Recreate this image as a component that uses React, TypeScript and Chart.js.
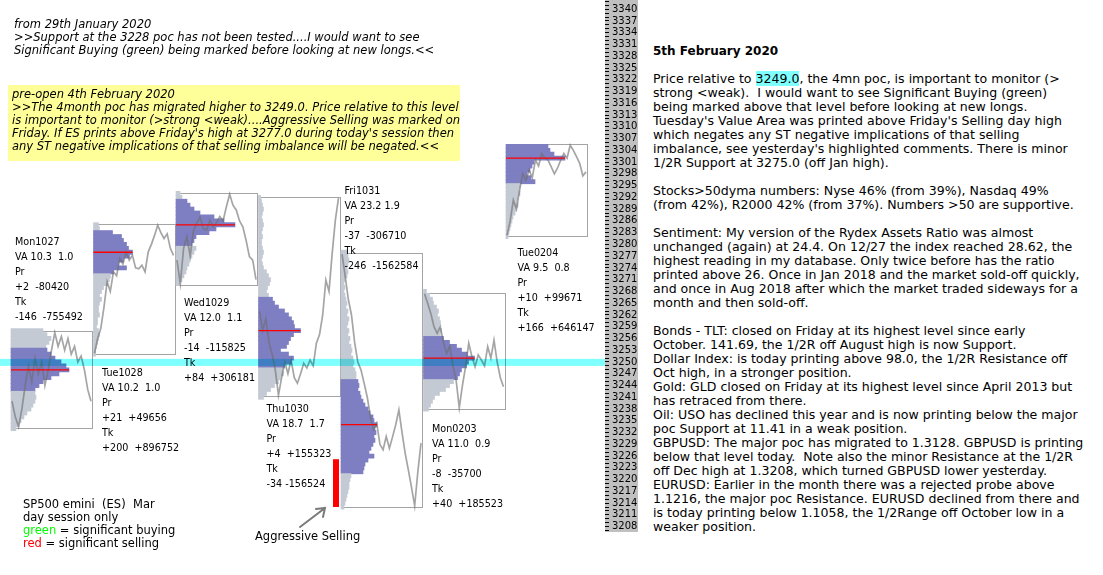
import React, { useEffect, useRef } from 'react';
import { Chart, registerables } from 'chart.js';

Chart.register(...registerables);

// ---------------- data ----------------
const days = ['Mon1027', 'Tue1028', 'Wed1029', 'Thu1030', 'Fri1031', 'Mon0203', 'Tue0204'];
const dayVA = ['VA 10.3  1.0', 'VA 10.2  1.0', 'VA 12.0  1.1', 'VA 18.7  1.7', 'VA 23.2 1.9', 'VA 11.0  0.9', 'VA 9.5  0.8'];
const dayPr = ['+2  -80420', '+21  +49656', '-14  -115825', '+4  +155323', '-37  -306710', '-8  -35700', '+10  +99671'];
const dayTk = ['-146  -755492', '+200  +896752', '+84  +306181', '-34 -156524', '-246  -1562584', '+40  +185523', '+166  +646147'];

const dayHigh = [3257.8, 3285.2, 3293.1, 3292.1, 3277.8, 3267.6, 3305.6];
const dayLow = [3233.2, 3252.0, 3269.6, 3241.3, 3213.0, 3238.0, 3282.1];

// profile: top price level, then relative volume per 1-point level going down
const profileTop = [3258, 3285, 3293, 3292, 3278, 3268, 3305];
const vaHigh = [3253, 3283, 3291, 3266, 3245, 3256, 3305];
const vaLow = [3243, 3273, 3280, 3249, 3222, 3246, 3296];
const pocLevel = [3248, 3278, 3285, 3258, 3234, 3251, 3302];

const mon1027Vol = [32, 36, 40, 38, 35, 36, 40, 44, 50, 55, 58, 48, 40, 32, 28, 24, 24, 25, 24, 22, 20, 16, 13, 10, 8, 5];
const tue1028Vol = [5, 6, 19, 28, 30, 33, 35, 39, 36, 30, 25, 33, 20, 17, 16, 14, 10, 8, 6, 8, 6, 5, 5, 6, 4, 4, 3, 5, 6, 5, 4, 3, 2, 2];
const wed1029Vol = [4, 6, 11, 14, 18, 24, 38, 48, 59, 40, 33, 20, 18, 16, 20, 18, 16, 14, 13, 11, 10, 8, 6, 4];
const thu1030Vol = [2, 3, 4, 5, 4, 3, 4, 5, 4, 3, 4, 3, 3, 4, 5, 4, 3, 4, 5, 8, 10, 12, 11, 9, 8, 10, 14, 16, 20, 26, 30, 33, 35, 36, 42, 35, 32, 30, 28, 22, 30, 35, 33, 26, 24, 25, 22, 20, 16, 12, 8, 5];
const fri1031Vol = [6, 7, 8, 7, 6, 7, 6, 4, 3, 4, 3, 4, 5, 6, 5, 7, 6, 8, 7, 6, 8, 7, 9, 8, 10, 11, 10, 12, 13, 12, 14, 15, 15, 17, 18, 17, 19, 20, 22, 24, 27, 29, 32, 33, 36, 34, 35, 33, 34, 32, 30, 28, 33, 27, 24, 23, 22, 10, 9, 8, 8, 7, 6, 5, 4, 3];
const mon0203Vol = [3, 6, 9, 10, 13, 15, 14, 16, 17, 16, 18, 17, 20, 26, 33, 38, 44, 51, 45, 43, 38, 36, 34, 30, 26, 22, 16, 11, 9, 7, 5];
const tue0204Vol = [42, 44, 48, 59, 28, 26, 24, 21, 25, 29, 14, 13, 14, 12, 11, 12, 10, 9, 7, 6, 5, 4, 3, 2];
const profileVol = [mon1027Vol, tue1028Vol, wed1029Vol, thu1030Vol, fri1031Vol, mon0203Vol, tue0204Vol];

// intraday price paths (equal time steps)
const mon1027Path = [3240, 3236, 3233.5, 3238, 3244, 3249, 3245, 3251, 3247, 3250, 3244, 3248, 3253, 3257.5, 3254, 3256.5, 3253, 3256, 3252, 3254, 3250, 3251.5, 3248, 3243, 3240];
const tue1028Path = [3252.2, 3256, 3258.6, 3264, 3270.5, 3268, 3273, 3272, 3276.4, 3275, 3278.1, 3276, 3277.2, 3274, 3273.8, 3274.7, 3273, 3278.1, 3280, 3282.3, 3284.9, 3283, 3281.5, 3282.7, 3279, 3277.2];
const wed1029Path = [3276, 3270, 3279, 3282, 3277, 3283.5, 3285.4, 3287, 3284, 3283.7, 3286.2, 3284.5, 3285.5, 3287.1, 3286, 3289.6, 3292.8, 3290, 3288.8, 3286, 3284.5, 3281, 3276.9, 3276, 3271];
const thu1030Path = [3263, 3258, 3261, 3255, 3252, 3248, 3241.5, 3246, 3250, 3247, 3250.5, 3246, 3244.6, 3247, 3249.7, 3248.5, 3250.5, 3249, 3254.8, 3257, 3262, 3270.9, 3268, 3277.7, 3286.2, 3291.8];
const fri1031Path = [3277.5, 3272, 3266, 3262, 3255, 3250, 3248, 3244.6, 3241, 3236, 3232.7, 3234.4, 3229, 3227.6, 3231, 3228, 3230.9, 3234, 3237.8, 3232, 3226.7, 3222.4, 3218, 3213.3, 3222, 3229.3];
const mon0203Path = [3267.4, 3265, 3262.4, 3259, 3257.3, 3259, 3255, 3252.2, 3254, 3249, 3245.4, 3238.3, 3244, 3248.8, 3254.8, 3251.4, 3248.8, 3251.8, 3250.5, 3249, 3253.9, 3251, 3255.6, 3250, 3246, 3243.7];
const tue0204Path = [3282.3, 3286, 3291.3, 3289, 3293.9, 3298.1, 3296.4, 3299, 3297, 3301.5, 3300, 3303.2, 3302, 3301.5, 3299.8, 3298, 3299.5, 3301.5, 3303.2, 3302, 3305.3, 3304, 3302.4, 3300.7, 3297.5, 3298.5];
const pricePaths = [mon1027Path, tue1028Path, wed1029Path, thu1030Path, fri1031Path, mon0203Path, tue0204Path];

const pocBand = [3249.0, 3250.8];
const aggressiveSelling = [3213.0, 3225.2];

const tickLabelAnchor = 3208;
const tickLabelEvery = 3;

// ---------------- texts ----------------
const noteJan = [
  'from 29th January 2020',
  '>>Support at the 3228 poc has not been tested....I would want to see',
  'Significant Buying (green) being marked before looking at new longs.<<',
];
const noteFeb = [
  'pre-open 4th February 2020',
  '>>The 4month poc has migrated higher to 3249.0. Price relative to this level',
  'is important to monitor (>strong <weak)....Aggressive Selling was marked on',
  "Friday. If ES prints above Friday's high at 3277.0 during today's session then",
  'any ST negative implications of that selling imbalance will be negated.<<',
];
const commentaryTitle = '5th February 2020';
const commentaryHighlight = '3249.0';
const commentary = [
  'Price relative to 3249.0, the 4mn poc, is important to monitor (>',
  'strong <weak).  I would want to see Significant Buying (green)',
  'being marked above that level before looking at new longs.',
  "Tuesday's Value Area was printed above Friday's Selling day high",
  'which negates any ST negative implications of that selling',
  "imbalance, see yesterday's highlighted comments. There is minor",
  '1/2R Support at 3275.0 (off Jan high).',
  '',
  'Stocks>50dyma numbers: Nyse 46% (from 39%), Nasdaq 49%',
  '(from 42%), R2000 42% (from 37%). Numbers >50 are supportive.',
  '',
  'Sentiment: My version of the Rydex Assets Ratio was almost',
  'unchanged (again) at 24.4. On 12/27 the index reached 28.62, the',
  'highest reading in my database. Only twice before has the ratio',
  'printed above 26. Once in Jan 2018 and the market sold-off quickly,',
  'and once in Aug 2018 after which the market traded sideways for a',
  'month and then sold-off.',
  '',
  'Bonds - TLT: closed on Friday at its highest level since early',
  'October. 141.69, the 1/2R off August high is now Support.',
  'Dollar Index: is today printing above 98.0, the 1/2R Resistance off',
  'Oct high, in a stronger position.',
  'Gold: GLD closed on Friday at its highest level since April 2013 but',
  'has retraced from there.',
  'Oil: USO has declined this year and is now printing below the major',
  'poc Support at 11.41 in a weak position.',
  'GBPUSD: The major poc has migrated to 1.3128. GBPUSD is printing',
  'below that level today.  Note also the minor Resistance at the 1/2R',
  'off Dec high at 1.3208, which turned GBPUSD lower yesterday.',
  'EURUSD: Earlier in the month there was a rejected probe above',
  '1.1216, the major poc Resistance. EURUSD declined from there and',
  'is today printing below 1.1058, the 1/2Range off October low in a',
  'weaker position.',
];

// ---------------- layout / style ----------------
const FONT = '"DejaVu Sans", Verdana, sans-serif';
const CANVAS_W = 640;
const CANVAS_H = 532;
const AXIS_W = 35;
const AXIS_MIN = 3206.63;
const AXIS_MAX = 3342.35;
const SLOT_X0 = 11;
const SLOT_STEP = 82.5;
const SLOT_W = 81;
const slotLeft = (i: number) => SLOT_X0 + SLOT_STEP * i;
const labelPos: [number, number][] = [
  [15, 233.5], [102, 365], [184, 294.5], [266.5, 400.5], [344.5, 182.5], [432, 421], [517.5, 244.5],
];
const BLUE = 'rgb(126,126,194)';
const GREY = 'rgb(196,202,212)';

const framePlugin = {
  id: 'frames',
  beforeDraw(chart: any) {
    const { ctx, chartArea } = chart;
    ctx.save();
    ctx.fillStyle = '#c0c0c0';
    ctx.fillRect(chartArea.right, 0, 33, chartArea.bottom);
    ctx.restore();
  },
  beforeDatasetsDraw(chart: any) {
    const { ctx } = chart;
    const y = chart.scales.y;
    const x = chart.scales.x;
    ctx.save();
    ctx.strokeStyle = '#a4a4a4';
    ctx.lineWidth = 1;
    days.forEach((_, i) => {
      const l = Math.round(x.getPixelForValue(slotLeft(i))) + 0.5;
      const r = Math.round(x.getPixelForValue(slotLeft(i) + SLOT_W)) + 0.5;
      const t = Math.round(y.getPixelForValue(dayHigh[i])) + 0.5;
      const b = Math.round(y.getPixelForValue(dayLow[i])) + 0.5;
      ctx.strokeRect(l, t, r - l, b - t);
    });
    ctx.restore();
  },
  afterDatasetsDraw(chart: any) {
    const { ctx, chartArea } = chart;
    const y = chart.scales.y;
    ctx.save();
    ctx.globalCompositeOperation = 'multiply';
    ctx.fillStyle = '#80ffff';
    const t = y.getPixelForValue(pocBand[1]);
    const b = y.getPixelForValue(pocBand[0]);
    ctx.fillRect(chartArea.left, t, chartArea.right - chartArea.left, b - t);
    ctx.restore();
    // arrow pointing at the aggressive selling marker
    ctx.save();
    ctx.strokeStyle = '#7a7a7a';
    ctx.lineWidth = 2;
    ctx.lineCap = 'round';
    ctx.beginPath();
    ctx.moveTo(300, 527);
    ctx.lineTo(325, 508);
    ctx.moveTo(316, 509);
    ctx.lineTo(325, 508);
    ctx.lineTo(323, 517);
    ctx.stroke();
    ctx.restore();
  },
};

function buildDatasets() {
  const ds: any[] = [];
  days.forEach((_, i) => {
    const left = slotLeft(i);
    const vols = profileVol[i];
    const top = profileTop[i];
    ds.push({
      type: 'bar',
      indexAxis: 'y',
      order: 5,
      grouped: false,
      barThickness: 4.2,
      borderWidth: 0,
      data: vols.map((v, j) => ({ y: top - j, x: [left, left + v] })),
      backgroundColor: (c: any) => {
        const p = c.raw ? c.raw.y : 0;
        return p >= vaLow[i] && p <= vaHigh[i] ? BLUE : GREY;
      },
    });
    const path = pricePaths[i];
    const n = path.length;
    ds.push({
      type: 'line',
      indexAxis: 'x',
      order: 3,
      data: path.map((p, k) => ({ x: left + 1 + (k * (SLOT_W - 2)) / (n - 1), y: p })),
      borderColor: 'rgba(110,110,110,0.62)',
      borderWidth: 1.7,
      pointRadius: 0,
      tension: 0,
      fill: false,
    });
    const pv = vols[top - pocLevel[i]];
    ds.push({
      type: 'line',
      indexAxis: 'x',
      order: 2,
      data: [
        { x: left, y: pocLevel[i] },
        { x: left + pv, y: pocLevel[i] },
      ],
      borderColor: '#ff0000',
      borderWidth: 1.3,
      pointRadius: 0,
      fill: false,
    });
  });
  const aggX = slotLeft(4) - 5;
  ds.push({
    type: 'line',
    indexAxis: 'x',
    order: 1,
    data: [
      { x: aggX, y: aggressiveSelling[0] },
      { x: aggX, y: aggressiveSelling[1] },
    ],
    borderColor: '#ff0000',
    borderWidth: 6,
    borderCapStyle: 'butt',
    pointRadius: 0,
    fill: false,
  });
  return ds;
}

function TextBlock(props: { x: number; y: number; lh: number; size: number; lines: React.ReactNode[]; italic?: boolean; bold?: boolean; color?: string }) {
  const { x, y, lh, size, lines, italic, bold, color } = props;
  return (
    <div
      style={{
        position: 'absolute',
        left: x,
        top: y,
        fontSize: size,
        lineHeight: lh + 'px',
        whiteSpace: 'pre',
        fontStyle: italic ? 'italic' : 'normal',
        fontWeight: bold ? 'bold' : 'normal',
        color: color || '#000',
      }}
    >
      {lines.map((l, i) => (
        <div key={i} style={{ height: lh }}>
          {l === '' ? '\u00a0' : l}
        </div>
      ))}
    </div>
  );
}

export default function App() {
  const ref = useRef<HTMLCanvasElement>(null);
  useEffect(() => {
    if (!ref.current) return;
    const chart = new Chart(ref.current, {
      type: 'line',
      data: { datasets: buildDatasets() },
      plugins: [framePlugin],
      options: {
        animation: false,
        responsive: false,
        devicePixelRatio: 1,
        events: [],
        layout: { padding: 0 },
        plugins: { legend: { display: false }, tooltip: { enabled: false } },
        scales: {
          x: {
            type: 'linear',
            min: 0,
            max: CANVAS_W - AXIS_W,
            display: false,
            offset: false,
            grid: { offset: false },
          },
          y: {
            type: 'linear',
            position: 'right',
            min: AXIS_MIN,
            max: AXIS_MAX,
            offset: false,
            border: { display: false },
            grid: { drawOnChartArea: false, drawTicks: true, tickLength: 4, color: '#000', offset: false, lineWidth: 1 },
            ticks: {
              stepSize: 1,
              autoSkip: false,
              includeBounds: false,
              maxTicksLimit: 400,
              padding: 3,
              color: '#000',
              font: { family: 'DejaVu Sans', size: 10 },
              callback: (v: any) => {
                const n = Math.round(Number(v));
                return (n - tickLabelAnchor) % tickLabelEvery === 0 ? String(n) : '';
              },
            },
            afterFit: (s: any) => {
              s.width = AXIS_W;
              s.paddingTop = 0;
              s.paddingBottom = 0;
            },
          },
        },
      } as any,
    } as any);
    return () => chart.destroy();
  }, []);

  const firstLine = commentary[0];
  const hi = firstLine.indexOf(commentaryHighlight);
  const commentaryNodes: React.ReactNode[] = commentary.map((l, i) =>
    i === 0 ? (
      <span key="h">
        {firstLine.slice(0, hi)}
        <span style={{ background: '#80ffff' }}>{commentaryHighlight}</span>
        {firstLine.slice(hi + commentaryHighlight.length)}
      </span>
    ) : (
      l
    )
  );

  return (
    <div
      style={{
        position: 'absolute',
        left: 0,
        top: 0,
        width: 1103,
        height: 575,
        background: '#fff',
        overflow: 'hidden',
        fontFamily: FONT,
        color: '#000',
      }}
    >
      <canvas ref={ref} width={CANVAS_W} height={CANVAS_H} style={{ position: 'absolute', left: 0, top: 0, width: CANVAS_W, height: CANVAS_H }} />

      <TextBlock x={14} y={17.5} lh={13} size={11.5} italic lines={noteJan} />
      <div style={{ position: 'absolute', left: 8, top: 85, width: 452, height: 76, background: '#ffff99' }} />
      <TextBlock x={12} y={87.5} lh={13} size={11.5} italic lines={noteFeb} />

      {days.map((d, i) => (
        <TextBlock key={d} x={labelPos[i][0]} y={labelPos[i][1]} lh={15} size={9.6} lines={[d, dayVA[i], 'Pr', dayPr[i], 'Tk', dayTk[i]]} />
      ))}

      <TextBlock
        x={23}
        y={497.5}
        lh={13}
        size={11.5}
        lines={[
          'SP500 emini  (ES)  Mar',
          'day session only',
          <span key="g"><span style={{ color: '#00ff00' }}>green</span> = significant buying</span>,
          <span key="r"><span style={{ color: '#ff0000' }}>red</span> = significant selling</span>,
        ]}
      />
      <TextBlock x={255} y={530} lh={13} size={11.5} lines={['Aggressive Selling']} />

      <TextBlock x={653} y={44} lh={14} size={12} bold lines={[commentaryTitle]} />
      <TextBlock x={653} y={72.3} lh={14} size={12.55} lines={commentaryNodes} />
    </div>
  );
}
